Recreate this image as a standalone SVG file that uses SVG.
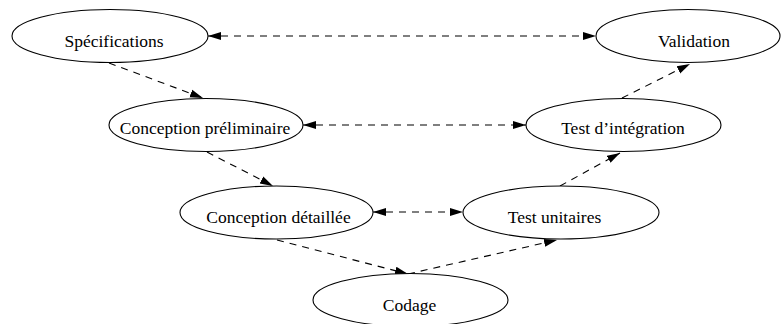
<svg xmlns="http://www.w3.org/2000/svg" width="781" height="324" viewBox="0 0 781 324">
<style>
.node ellipse{fill:#fff;stroke:#000;stroke-width:1.1}
.node text{font-family:"Liberation Serif","Times New Roman",serif;font-size:17.5px;fill:#000;text-anchor:middle}
.edge{fill:none;stroke:#000;stroke-width:1.1;stroke-dasharray:7,6}
.one{marker-end:url(#ah)}
.two{marker-start:url(#ah);marker-end:url(#ah)}
</style>
<defs>
<marker id="ah" markerUnits="userSpaceOnUse" markerWidth="14" markerHeight="10" refX="13" refY="4.5" orient="auto-start-reverse" viewBox="0 0 14 9">
<path d="M0,0.5 L13,4.5 L0,8.5 Z" fill="#000" stroke="none"/>
</marker>
</defs>
<rect width="781" height="324" fill="#fff"/>
<g id="connectors">
<path class="edge two" d="M208,36 L596,36"/>
<path class="edge one" d="M109,63 L203,98"/>
<path class="edge one" d="M207,152 L273,186"/>
<path class="edge two" d="M303,125 L526,125"/>
<path class="edge two" d="M373,212 L463,212"/>
<path class="edge one" d="M277,240 L408,274"/>
<path class="edge one" d="M408,274 L557,240"/>
<path class="edge one" d="M560,186 L620,153"/>
<path class="edge one" d="M622,98 L690,64"/>
</g>
<g id="specifications" class="node"><ellipse cx="110" cy="36" rx="98" ry="26.5"/><text x="114" y="46.5">Spécifications</text></g>
<g id="validation" class="node"><ellipse cx="688" cy="36" rx="92" ry="26.5"/><text x="694" y="46.5">Validation</text></g>
<g id="conception-preliminaire" class="node"><ellipse cx="206" cy="125" rx="97" ry="26.5"/><text x="205" y="134">Conception préliminaire</text></g>
<g id="test-integration" class="node"><ellipse cx="623.5" cy="125" rx="97.5" ry="26.5"/><text x="623" y="134">Test d’intégration</text></g>
<g id="conception-detaillee" class="node"><ellipse cx="276.5" cy="212.5" rx="96.5" ry="26.5"/><text x="278.5" y="223">Conception détaillée</text></g>
<g id="test-unitaires" class="node"><ellipse cx="561" cy="212.5" rx="98" ry="26.5"/><text x="554.5" y="223">Test unitaires</text></g>
<g id="codage" class="node"><ellipse cx="410.5" cy="300" rx="97.5" ry="26.5"/><text x="409.5" y="311">Codage</text></g>
</svg>
